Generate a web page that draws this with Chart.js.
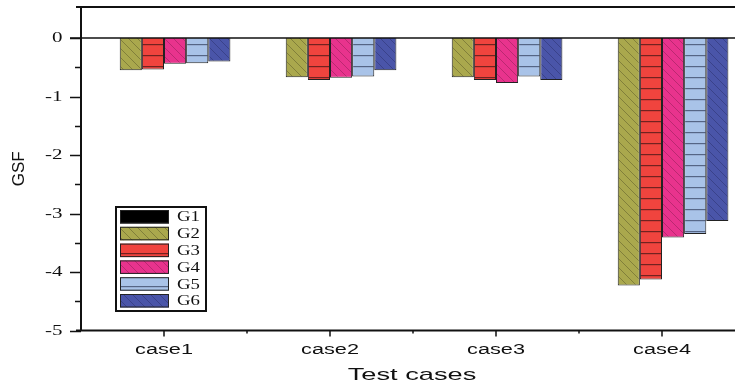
<!DOCTYPE html>
<html><head><meta charset="utf-8">
<script src="https://cdn.jsdelivr.net/npm/chart.js@4/dist/chart.umd.min.js"></script>
<style>
html,body{margin:0;padding:0;background:#fff;overflow:hidden;width:735px;height:385px;}
#wrap{position:relative;width:735px;height:385px;overflow:hidden;background:#fff;}
canvas{position:absolute;left:0;top:0;}
</style></head><body>
<div id="wrap"><canvas id="c" width="760" height="385"></canvas></div>
<script>
const categories = ['case1', 'case2', 'case3', 'case4'];
const seriesNames = ['G1', 'G2', 'G3', 'G4', 'G5', 'G6'];
const G1 = [0, 0, 0, 0];
const G2 = [-0.55, -0.67, -0.67, -4.23];
const G3 = [-0.54, -0.72, -0.72, -4.13];
const G4 = [-0.44, -0.68, -0.77, -3.41];
const G5 = [-0.43, -0.66, -0.66, -3.35];
const G6 = [-0.40, -0.55, -0.72, -3.13];
const yTickValues = [0, -1, -2, -3, -4, -5];
const xTitle = 'Test cases';
const yTitle = 'GSF';
const seriesValues = [G1, G2, G3, G4, G5, G6];

const SANS = '"Liberation Sans", sans-serif';
const SERIF = '"Liberation Serif", serif';

const canvas = document.getElementById('c');
const ctx = canvas.getContext('2d');

function diagPattern(bg, line) {
  const s = 9;
  const c = document.createElement('canvas'); c.width = s; c.height = s;
  const g = c.getContext('2d');
  g.fillStyle = bg; g.fillRect(0, 0, s, s);
  g.strokeStyle = line; g.lineWidth = 0.8;
  g.beginPath();
  g.moveTo(-1, -1); g.lineTo(s + 1, s + 1);
  g.moveTo(-1, s - 1); g.lineTo(1, s + 1);
  g.moveTo(s - 1, -1); g.lineTo(s + 1, 1);
  g.stroke();
  return ctx.createPattern(c, 'repeat');
}
function horizPattern(bg, line, gap) {
  const c = document.createElement('canvas'); c.width = 4; c.height = gap;
  const g = c.getContext('2d');
  g.fillStyle = bg; g.fillRect(0, 0, 4, gap);
  g.fillStyle = line; g.fillRect(0, 0, 4, 1.2);
  return ctx.createPattern(c, 'repeat');
}
const fills = [
  '#000000',
  diagPattern('#aaa84d', 'rgba(40,40,20,0.4)'),
  horizPattern('#f0443e', 'rgba(60,20,20,0.7)', 11),
  diagPattern('#e8338d', 'rgba(70,10,40,0.35)'),
  horizPattern('#a9c3e8', 'rgba(40,50,80,0.65)', 11),
  diagPattern('#4a55a9', 'rgba(20,20,60,0.35)')
];

function stretchText(c, text, font, x, y, sx, align, baseline) {
  c.save();
  c.font = font;
  c.textAlign = align;
  c.textBaseline = baseline;
  c.translate(x, y);
  c.scale(sx, 1);
  c.fillText(text, 0, 0);
  c.restore();
}

const axisPlugin = {
  id: 'axisPlugin',
  afterDraw(chart) {
    const c = chart.ctx;
    const a = chart.chartArea;
    const y = chart.scales.y, x = chart.scales.x;
    c.save();
    c.strokeStyle = '#111';
    c.lineWidth = 2;
    c.beginPath();
    c.moveTo(a.left - 5, a.top); c.lineTo(a.right, a.top);
    c.moveTo(a.left, a.top - 1); c.lineTo(a.left, a.bottom + 1);
    c.moveTo(a.left - 5, a.bottom); c.lineTo(a.right, a.bottom);
    c.stroke();
    c.lineWidth = 1.6;
    const y0 = y.getPixelForValue(0);
    c.beginPath(); c.moveTo(a.left - 11, y0); c.lineTo(a.right, y0); c.stroke();
    c.lineWidth = 1.5;
    c.beginPath();
    for (let v = -5; v <= 0.001; v += 0.5) {
      const py = Math.round(y.getPixelForValue(v)) + 0.5;
      const major = Math.abs(v - Math.round(v)) < 1e-6;
      c.moveTo(a.left, py); c.lineTo(a.left - (major ? 11 : 6), py);
    }
    c.stroke();
    c.beginPath();
    const n = categories.length;
    for (let i = 0; i < n; i++) {
      const px = x.getPixelForValue(i);
      c.moveTo(px, a.bottom); c.lineTo(px, a.bottom + 6);
      if (i > 0) {
        const bx = (x.getPixelForValue(i - 1) + px) / 2;
        c.moveTo(bx, a.bottom); c.lineTo(bx, a.bottom + 3);
      }
    }
    c.stroke();
    c.fillStyle = '#111';
    yTickValues.forEach(v => {
      stretchText(c, String(v), '15px ' + SERIF, a.left - 18.5, y.getPixelForValue(v) + 0.5, 1.4, 'right', 'middle');
    });
    categories.forEach((lab, i) => {
      stretchText(c, lab, '14px ' + SANS, x.getPixelForValue(i), 353.5, 1.55, 'center', 'alphabetic');
    });
    stretchText(c, xTitle, '17px ' + SANS, (a.left + a.right) / 2 - 1, 380, 1.6, 'center', 'alphabetic');
    const lx = a.left + 35, ly = a.top + 200, lw = 90, lh = 104;
    c.fillStyle = '#fff';
    c.fillRect(lx, ly, lw, lh);
    c.lineWidth = 2;
    c.strokeRect(lx, ly, lw, lh);
    chart.data.datasets.forEach((ds, i) => {
      const sy = ly + 3 + i * 16.8;
      c.fillStyle = ds.backgroundColor;
      c.fillRect(lx + 4, sy, 49, 13.5);
      c.lineWidth = 1;
      c.strokeStyle = '#222';
      c.strokeRect(lx + 4.5, sy + 0.5, 48, 12.5);
      c.fillStyle = '#111';
      stretchText(c, ds.label, '15px ' + SERIF, lx + 61, sy + 7.5, 1.25, 'left', 'middle');
    });
    c.restore();
  }
};

new Chart(canvas, {
  type: 'bar',
  data: {
    labels: categories,
    datasets: seriesNames.map((name, i) => ({
      label: name,
      data: seriesValues[i],
      backgroundColor: fills[i],
      borderColor: '#222',
      borderWidth: 1,
      categoryPercentage: 0.8,
      barPercentage: 1.0
    }))
  },
  options: {
    responsive: false,
    animation: false,
    devicePixelRatio: 1,
    layout: { padding: { left: 0, right: 15, top: 7, bottom: 0 } },
    plugins: { legend: { display: false }, tooltip: { enabled: false } },
    scales: {
      x: {
        grid: { display: false, drawTicks: false },
        border: { display: false },
        ticks: { display: false },
        afterFit(s) { s.height = 54.5; s.paddingLeft = 0; s.paddingRight = 0; }
      },
      y: {
        min: -5, max: 0.53,
        grid: { display: false, drawTicks: false },
        border: { display: false },
        afterBuildTicks(s) { s.ticks = yTickValues.map(v => ({ value: v })); },
        ticks: { display: false },
        title: { display: true, text: yTitle, color: '#111', font: { family: SANS, size: 17 }, padding: { top: 9, bottom: 0 } },
        afterFit(s) { s.width = 81; s.paddingTop = 0; s.paddingBottom = 0; }
      }
    }
  },
  plugins: [axisPlugin]
});
</script>
</body></html>
